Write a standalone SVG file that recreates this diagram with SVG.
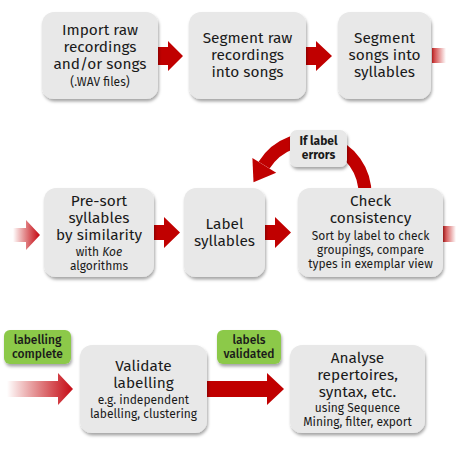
<svg xmlns="http://www.w3.org/2000/svg" width="469" height="451" viewBox="0 0 469 451">
<defs>
<style>
.box{fill:#e8e8e8;filter:url(#sh)}
.gbox{fill:#8cc94a;filter:url(#sh)}
.arr{fill:#c00000}
text{font-family:"Fira Sans","Noto Sans","Open Sans",sans-serif;fill:#1a1a1a;text-anchor:middle}
.t{font-size:15.4px}
.s{font-size:12px}
.g{font-size:12px;font-weight:500}
.b{font-size:12px;font-weight:bold}
</style>
<filter id="sh" x="-10%" y="-10%" width="125%" height="130%">
<feDropShadow dx="1" dy="2.5" stdDeviation="1.5" flood-color="#000" flood-opacity="0.35"/>
</filter>
<linearGradient id="fadeOut" x1="0" y1="0" x2="1" y2="0">
<stop offset="0" stop-color="#c00000" stop-opacity="0.85"/>
<stop offset="1" stop-color="#c00000" stop-opacity="0"/>
</linearGradient>
<linearGradient id="fadeIn2" gradientUnits="userSpaceOnUse" x1="13" y1="0" x2="38" y2="0">
<stop offset="0" stop-color="#c00000" stop-opacity="0"/>
<stop offset="1" stop-color="#c8141e" stop-opacity="1"/>
</linearGradient>
<linearGradient id="fadeIn3" gradientUnits="userSpaceOnUse" x1="7" y1="0" x2="70" y2="0">
<stop offset="0" stop-color="#c00000" stop-opacity="0"/>
<stop offset="1" stop-color="#c8141e" stop-opacity="1"/>
</linearGradient>
</defs>

<g id="connectors">
<polygon class="arr" points="158,47 168,47 168,41 183,56 168,71 168,65 158,65"/>
<polygon class="arr" points="305,47 316,47 316,41 332,56 316,71 316,65 305,65"/>
<rect x="432" y="48" width="14" height="15" fill="url(#fadeOut)"/>
<polygon fill="url(#fadeIn2)" points="13,228 26,228 26,220 40,235 26,250 26,242 13,242"/>
<polygon class="arr" points="153,225 164,225 164,217 180,232.5 164,248 164,240 153,240"/>
<polygon class="arr" points="264,225 275,225 275,217 291,232.5 275,248 275,240 264,240"/>
<rect x="443" y="226" width="13" height="16" fill="url(#fadeOut)"/>
<polygon fill="url(#fadeIn3)" points="7,381 58,381 58,373 73,389 58,405 58,397 7,397"/>
<polygon class="arr" points="207,381 267,381 267,373 284,389 267,405 267,397 207,397"/>
<path d="M365,196 A54.6,54.6 0 0 0 264.1,165.1" fill="none" stroke="#c00000" stroke-width="13"/>
<polygon class="arr" points="276.2,172.7 252.4,157.9 253.5,182.3"/>
</g>

<g id="n1"><rect class="box" x="42" y="12" width="116" height="87" rx="12"/>
<text class="t" x="100" y="35">Import raw</text>
<text class="t" x="100" y="52">recordings</text>
<text class="t" x="100" y="69">and/or songs</text>
<text class="s" x="100" y="86">(.WAV files)</text></g>

<g id="n2"><rect class="box" x="189" y="12" width="117" height="87" rx="12"/>
<text class="t" x="247.5" y="43">Segment raw</text>
<text class="t" x="247.5" y="60">recordings</text>
<text class="t" x="247.5" y="77">into songs</text></g>

<g id="n3"><rect class="box" x="338" y="12" width="93" height="87" rx="12"/>
<text class="t" x="384.5" y="43">Segment</text>
<text class="t" x="384.5" y="60">songs into</text>
<text class="t" x="384.5" y="77">syllables</text></g>

<g id="n4"><rect class="box" x="44" y="188" width="110" height="89" rx="12"/>
<text class="t" x="99" y="206">Pre-sort</text>
<text class="t" x="99" y="223">syllables</text>
<text class="t" x="99" y="240">by similarity</text>
<text class="s" x="99" y="256">with <tspan font-style="italic">Koe</tspan></text>
<text class="s" x="99" y="270">algorithms</text></g>

<g id="n5"><rect class="box" x="184" y="188" width="81" height="89" rx="12"/>
<text class="t" x="224.5" y="229">Label</text>
<text class="t" x="224.5" y="246">syllables</text></g>

<g id="n6"><rect class="box" x="298" y="188" width="145" height="89" rx="12"/>
<text class="t" x="370.5" y="206">Check</text>
<text class="t" x="370.5" y="223">consistency</text>
<text class="s" x="370.5" y="240">Sort by label to check</text>
<text class="s" x="370.5" y="254">groupings, compare</text>
<text class="s" x="370.5" y="268">types in exemplar view</text></g>

<g id="n7"><rect class="box" x="290" y="130" width="57" height="37" rx="7"/>
<text class="b" x="318.5" y="145">If label</text>
<text class="b" x="318.5" y="159">errors</text></g>

<g id="n8"><rect class="gbox" x="4" y="330" width="67" height="34" rx="6"/>
<text class="g" x="37.5" y="344">labelling</text>
<text class="g" x="37.5" y="358">complete</text></g>

<g id="n9"><rect class="box" x="80" y="345" width="127" height="88" rx="12"/>
<text class="t" x="143.5" y="371">Validate</text>
<text class="t" x="143.5" y="388">labelling</text>
<text class="s" x="143.5" y="404">e.g. independent</text>
<text class="s" x="143.5" y="418">labelling, clustering</text></g>

<g id="n10"><rect class="gbox" x="217" y="330" width="64" height="34" rx="6"/>
<text class="g" x="249" y="344">labels</text>
<text class="g" x="249" y="358">validated</text></g>

<g id="n11"><rect class="box" x="290" y="345" width="135" height="88" rx="12"/>
<text class="t" x="357.5" y="363">Analyse</text>
<text class="t" x="357.5" y="380">repertoires,</text>
<text class="t" x="357.5" y="397">syntax, etc.</text>
<text class="s" x="357.5" y="412">using Sequence</text>
<text class="s" x="357.5" y="426">Mining, filter, export</text></g>
</svg>
